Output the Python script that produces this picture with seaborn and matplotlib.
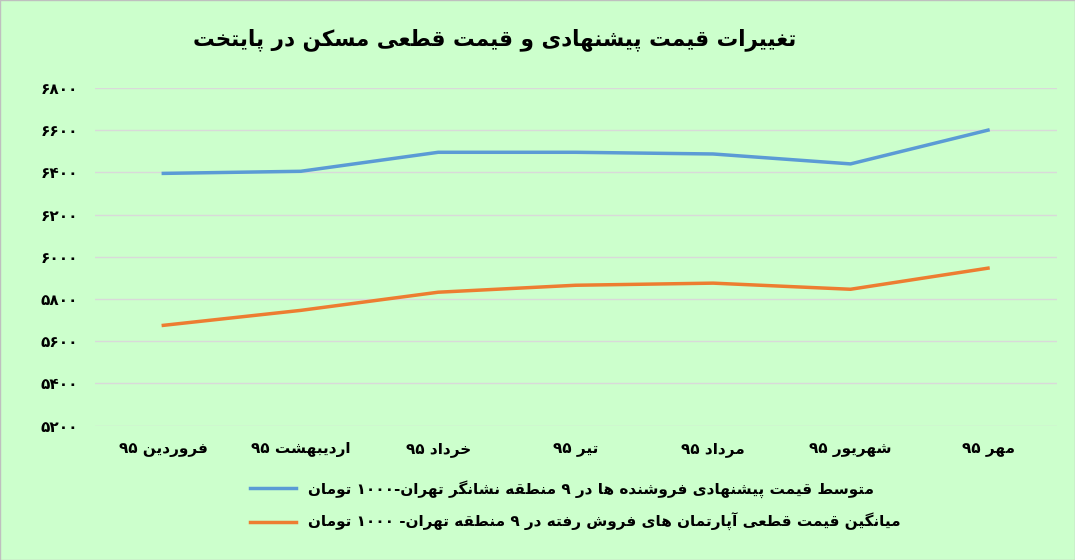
import re
import matplotlib
matplotlib.use("Agg")
import matplotlib.pyplot as plt
import seaborn as sns
import pandas as pd

months = ["فروردین ۹۵", "اردیبهشت ۹۵", "خرداد ۹۵", "تیر ۹۵", "مرداد ۹۵", "شهریور ۹۵", "مهر ۹۵"]
offered = [6395, 6405, 6495, 6495, 6487, 6440, 6600]
actual = [5675, 5746, 5832, 5865, 5875, 5846, 5946]
yticks = [5200, 5400, 5600, 5800, 6000, 6200, 6400, 6600, 6800]
title = "تغییرات قیمت پیشنهادی و قیمت قطعی مسکن در پایتخت"
s1 = "متوسط قیمت پیشنهادی فروشنده ها در ۹ منطقه نشانگر تهران-۱۰۰۰ تومان"
s2 = "میانگین قیمت قطعی آپارتمان های فروش رفته در ۹ منطقه تهران- ۱۰۰۰ تومان"

F = {}
def four(ch, a, b, c, d): F[ch] = (a, b, c, d)
def two(ch, a, b): F[ch] = (a, b, None, None)
two('ا',0xFE8D,0xFE8E); two('آ',0xFE81,0xFE82)
for ch, base in [('ب',0xFE8F),('ت',0xFE95),('ث',0xFE99),('ج',0xFE9D),('ح',0xFEA1),('خ',0xFEA5),
                 ('س',0xFEB1),('ش',0xFEB5),('ص',0xFEB9),('ض',0xFEBD),('ط',0xFEC1),('ظ',0xFEC5),
                 ('ع',0xFEC9),('غ',0xFECD),('ف',0xFED1),('ق',0xFED5),('ل',0xFEDD),('م',0xFEE1),
                 ('ن',0xFEE5),('ه',0xFEE9),('پ',0xFB56),('چ',0xFB7A),('ک',0xFB8E),('گ',0xFB92),('ی',0xFBFC)]:
    four(ch, base, base+1, base+2, base+3)
for ch, base in [('د',0xFEA9),('ذ',0xFEAB),('ر',0xFEAD),('ز',0xFEAF),('ژ',0xFB8A),('و',0xFEED)]:
    two(ch, base, base+1)

def joins_left(c): return c in F and F[c][2] is not None
def shape(s):
    out = []
    for i, c in enumerate(s):
        if c not in F: out.append(c); continue
        prev = s[i-1] if i > 0 else ''
        nxt = s[i+1] if i+1 < len(s) else ''
        jp = joins_left(prev)
        jn = joins_left(c) and nxt in F
        iso, fin, ini, med = F[c]
        if jp and jn: g = med
        elif jp: g = fin
        elif jn: g = ini
        else: g = iso
        out.append(chr(g))
    r = ''.join(out)[::-1]
    return re.sub(r'[۰-۹0-9]+', lambda m: m.group(0)[::-1], r)

fa_digits = str.maketrans("0123456789", "۰۱۲۳۴۵۶۷۸۹")
df = pd.DataFrame({"x": list(range(7)) * 2, "y": offered + actual,
                   "s": [shape(s1)] * 7 + [shape(s2)] * 7})

plt.rcParams["font.family"] = "DejaVu Sans"
fig = plt.figure(figsize=(10.75, 5.6), dpi=100, facecolor="#CCFFCC")
ax = fig.add_axes([0.088, 0.24, 0.895, 0.603])
ax.set_facecolor("#CCFFCC")
sns.lineplot(data=df, x="x", y="y", hue="s", palette=["#5B9BD5", "#ED7D31"], linewidth=2.5, ax=ax)
ax.set_xlim(-0.5, 6.5)
ax.set_ylim(5200, 6800)
ax.set_yticks(yticks)
ax.set_yticklabels([str(v).translate(fa_digits) for v in yticks], fontsize=11, fontweight="bold")
ax.set_xticks(range(7))
ax.set_xticklabels([shape(m) for m in months], fontsize=11, fontweight="bold")
ax.grid(axis="y", color="#D9D9D9", linewidth=1)
for sp in ax.spines.values(): sp.set_visible(False)
ax.tick_params(length=0, pad=12)
ax.set_xlabel(""); ax.set_ylabel("")
leg = ax.legend(loc="upper center", bbox_to_anchor=(0.5, -0.12), frameon=False, fontsize=11,
                handlelength=3, labelspacing=1.0)
for t in leg.get_texts(): t.set_fontweight("bold")
fig.text(0.46, 0.92, shape(title), ha="center", fontsize=15.5, fontweight="bold")
fig.patches.append(plt.Rectangle((0, 0), 1, 1, transform=fig.transFigure, fill=False,
                                 edgecolor="#BFBFBF", linewidth=1))
fig.savefig("out.png", dpi=100, facecolor=fig.get_facecolor())
